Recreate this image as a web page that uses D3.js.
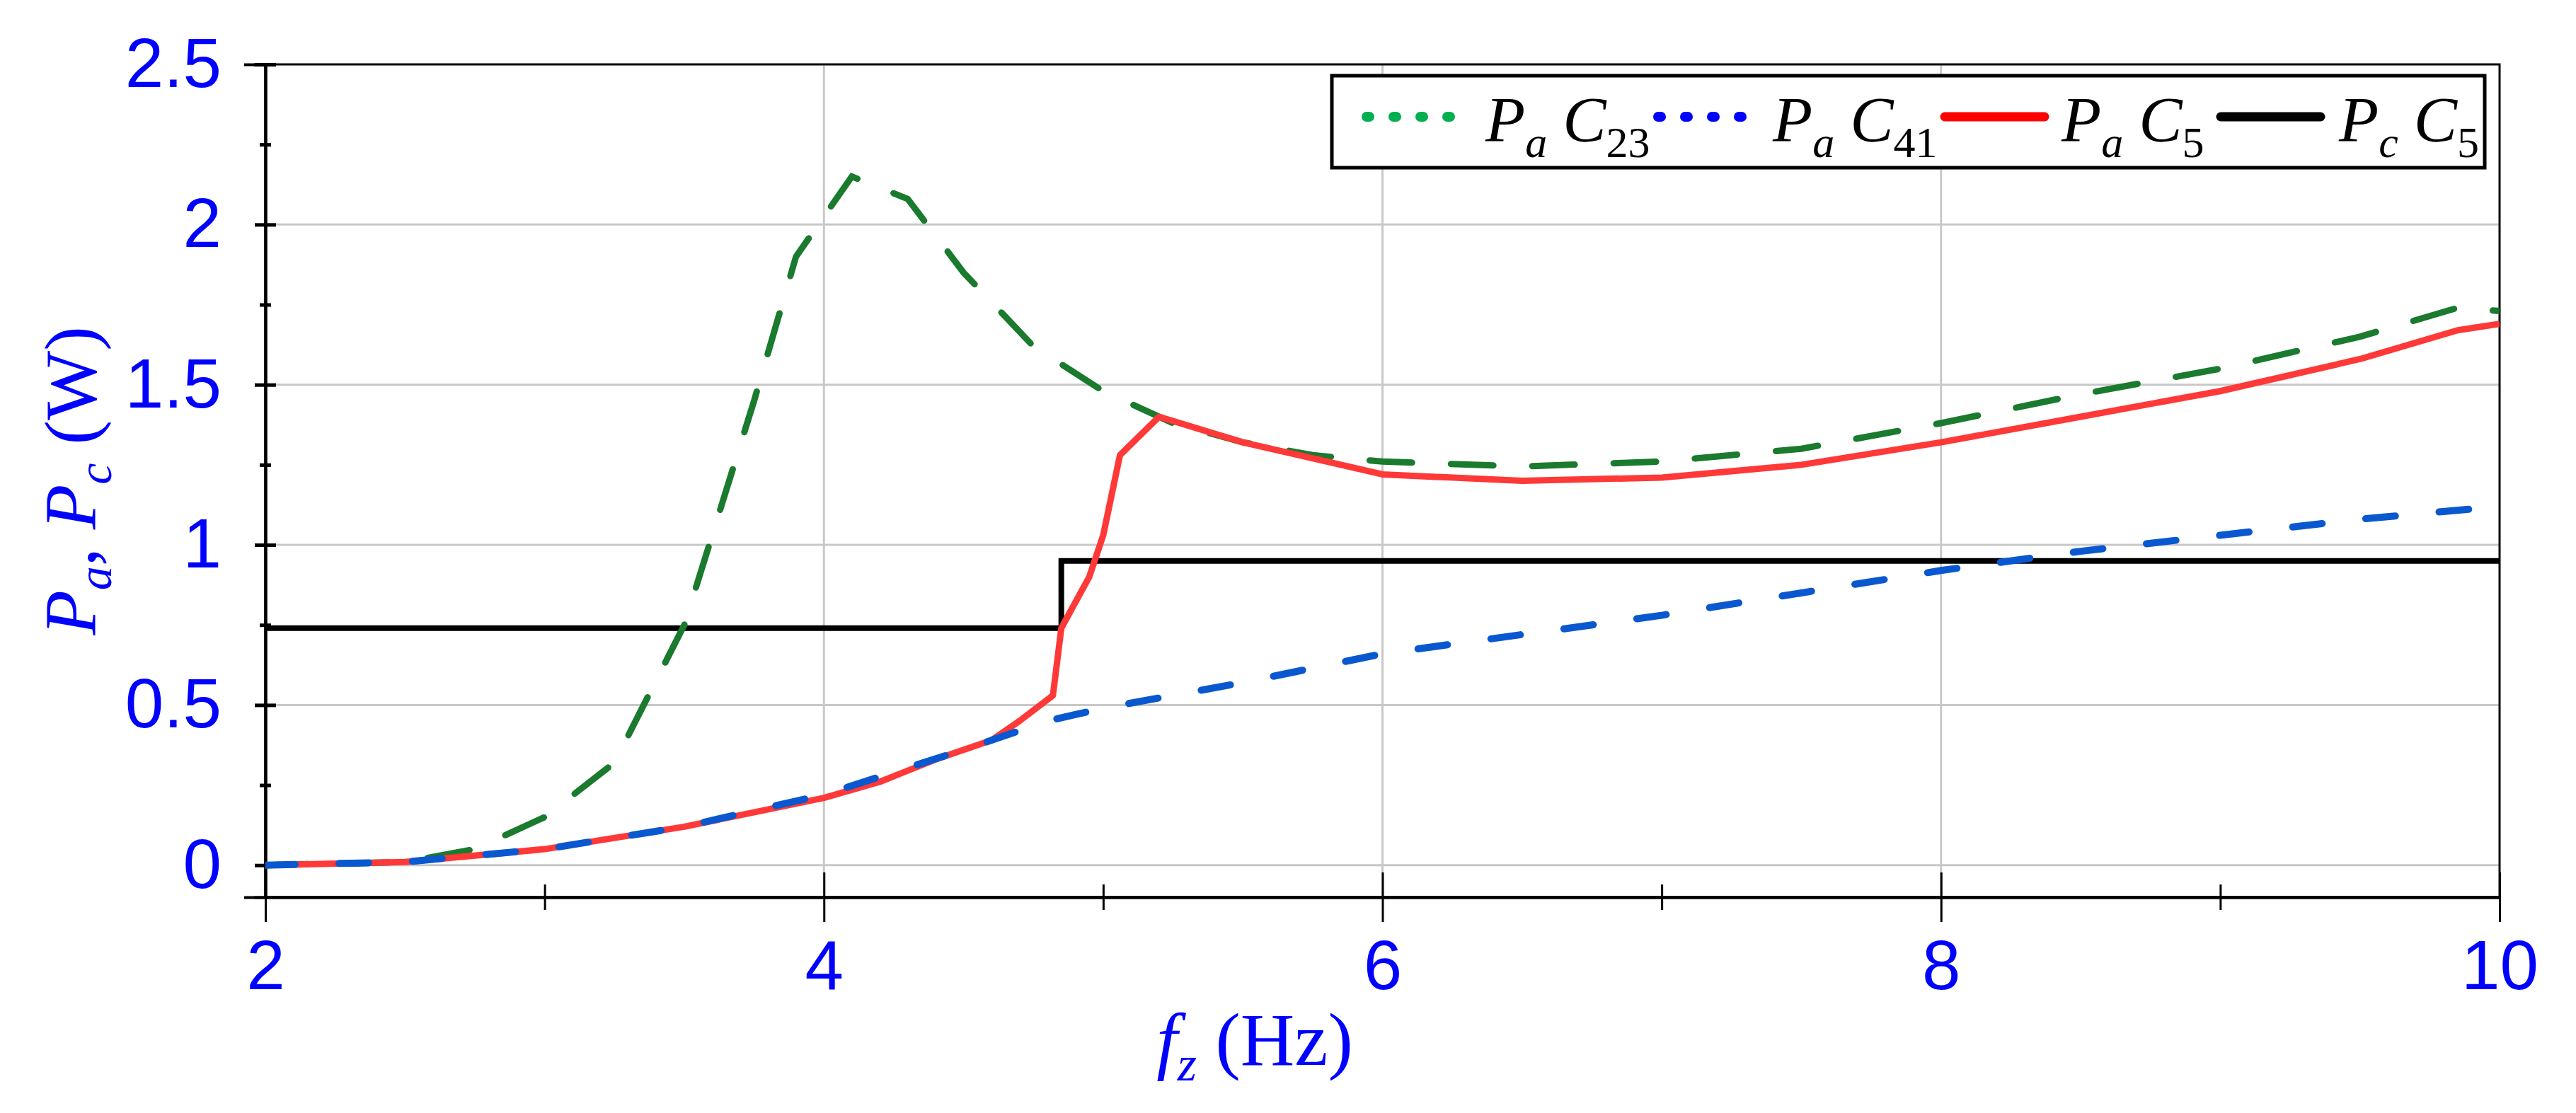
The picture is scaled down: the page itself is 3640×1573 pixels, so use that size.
<!DOCTYPE html>
<html><head><meta charset="utf-8">
<script src="https://cdn.jsdelivr.net/npm/d3@7"></script>
<style>body{margin:0;background:#fff}</style>
</head><body><svg id="chart"></svg>
<script>
var W = 3640, H = 1573;
var M = {left: 375, right: 108, top: 91, bottom: 305};

var xTicks = [2, 4, 6, 8, 10];
var xMinor = [3, 5, 7, 9];
var yTicks = [0, 0.5, 1, 1.5, 2, 2.5];
var yTickLabels = ["0", "0.5", "1", "1.5", "2", "2.5"];
var yMinor = [0.25, 0.75, 1.25, 1.75, 2.25];

// P_a C23 (green dashed)
var fC23 = [2, 2.5, 2.75, 3, 3.25, 3.5, 3.75, 3.9, 4.1, 4.3, 4.5, 4.75, 5, 5.25, 5.5, 5.75, 6, 6.5, 7, 7.5, 8, 8.5, 9, 9.5, 9.85, 10];
var pC23 = [0, 0.01, 0.05, 0.15, 0.32, 0.75, 1.45, 1.9, 2.15, 2.08, 1.85, 1.62, 1.48, 1.38, 1.32, 1.28, 1.26, 1.245, 1.26, 1.3, 1.38, 1.47, 1.55, 1.65, 1.74, 1.73];
// P_a C41 (blue dashed)
var fC41 = [2, 2.5, 3, 3.5, 4, 4.5, 4.8, 5, 5.5, 6, 6.5, 7, 7.5, 8, 8.5, 9, 9.5, 10];
var pC41 = [0, 0.01, 0.05, 0.12, 0.22, 0.36, 0.45, 0.49, 0.57, 0.66, 0.72, 0.78, 0.85, 0.92, 0.98, 1.03, 1.08, 1.12];
// P_a C5 (red)
var fC5 = [2, 2.5, 3, 3.5, 4, 4.2, 4.4, 4.6, 4.7, 4.82, 4.85, 4.95, 5, 5.06, 5.2, 5.5, 6, 6.5, 7, 7.5, 8, 8.5, 9, 9.5, 9.85, 10];
var pC5 = [0, 0.01, 0.05, 0.12, 0.21, 0.26, 0.33, 0.39, 0.45, 0.53, 0.74, 0.9, 1.03, 1.28, 1.4, 1.32, 1.22, 1.2, 1.21, 1.25, 1.32, 1.4, 1.48, 1.58, 1.67, 1.69];
// P_c C5 (black step)
var fPc = [2, 4.85, 10];
var pPc = [0.74, 0.95, 0.95];

var svg = d3.select('#chart').attr('width', W).attr('height', H);

var x = d3.scaleLinear().domain([2, 10]).range([M.left, W - M.right]);
var y = d3.scaleLinear().domain([-0.1, 2.5]).range([H - M.bottom, M.top]);

// grid
svg.append('g').selectAll('line').data(xTicks.slice(1, -1)).enter().append('line')
  .attr('x1', d => x(d)).attr('x2', d => x(d)).attr('y1', y(2.5)).attr('y2', y(-0.1))
  .attr('stroke', '#c8c8c8').attr('stroke-width', 3);
svg.append('g').selectAll('line').data(yTicks.slice(0, -1)).enter().append('line')
  .attr('x1', x(2)).attr('x2', x(10)).attr('y1', d => y(d)).attr('y2', d => y(d))
  .attr('stroke', '#c8c8c8').attr('stroke-width', 3);

// frame
svg.append('rect').attr('x', x(2)).attr('y', y(2.5)).attr('width', x(10) - x(2)).attr('height', y(-0.1) - y(2.5))
  .attr('fill', 'none').attr('stroke', '#000').attr('stroke-width', 3);

// axes
var yAx = svg.append('g').attr('transform', 'translate(' + x(2) + ',0)')
  .call(d3.axisLeft(y).tickValues(yTicks).tickFormat((d, i) => yTickLabels[i]).tickSize(30).tickPadding(32));
yAx.selectAll('.tick line').attr('stroke-width', 5).attr('x2', -30).attr('transform', 'translate(15,0)');
svg.append('g').attr('transform', 'translate(' + x(2) + ',0)')
  .call(d3.axisLeft(y).tickValues(yMinor).tickFormat('').tickSize(16))
  .selectAll('.tick line').attr('stroke-width', 5).attr('transform', 'translate(8,0)');

var xAx = svg.append('g').attr('transform', 'translate(0,' + y(-0.1) + ')')
  .call(d3.axisBottom(x).tickValues(xTicks).tickSize(0).tickPadding(60));
xAx.selectAll('.tick line').attr('y1', -35).attr('y2', 35).attr('stroke-width', 3);
svg.append('g').attr('transform', 'translate(0,' + y(-0.1) + ')')
  .call(d3.axisBottom(x).tickValues(xMinor).tickFormat('').tickSize(0))
  .selectAll('.tick line').attr('y1', -18).attr('y2', 18).attr('stroke-width', 3);

svg.selectAll('.domain').attr('stroke', '#000').attr('stroke-width', 4);
svg.selectAll('.tick text').attr('fill', '#0000ff').style('font-family', '"Liberation Sans Narrow", "Liberation Sans", Arial')
  .style('font-size', '98px');
xAx.selectAll('.tick text').attr('dy', '0.71em');

// lines
function series(fs, ps) { return fs.map((f, i) => [f, ps[i]]); }
var line = d3.line().x(d => x(d[0])).y(d => y(d[1]));
svg.append('clipPath').attr('id', 'clip').append('rect')
  .attr('x', x(2)).attr('y', y(2.5)).attr('width', x(10) - x(2)).attr('height', y(-0.1) - y(2.5));
var g = svg.append('g').attr('clip-path', 'url(#clip)');

g.append('path').datum(series(fPc, pPc)).attr('d', line.curve(d3.curveStepAfter))
  .attr('fill', 'none').attr('stroke', '#000').attr('stroke-width', 8);
line.curve(d3.curveLinear);
g.append('path').datum(series(fC23, pC23)).attr('d', line)
  .attr('fill', 'none').attr('stroke', '#1a7a2e').attr('stroke-width', 9).attr('stroke-linecap', 'round')
  .attr('stroke-dasharray', '60,55');
g.append('path').datum(series(fC5, pC5)).attr('d', line)
  .attr('fill', 'none').attr('stroke', '#ff3838').attr('stroke-width', 9).attr('stroke-linejoin', 'round');
g.append('path').datum(series(fC41, pC41)).attr('d', line)
  .attr('fill', 'none').attr('stroke', '#0a58d0').attr('stroke-width', 10).attr('stroke-linecap', 'round')
  .attr('stroke-dasharray', '42,62');

// legend
var lg = svg.append('g');
lg.append('rect').attr('x', 1882).attr('y', 107).attr('width', 1629).attr('height', 130)
  .attr('fill', '#fff').attr('stroke', '#000').attr('stroke-width', 5);
var legend = [
  {x0: 1923, x1: 2058, color: '#00b050', dots: true, P: 'a', C: '23', tx: 2099},
  {x0: 2335, x1: 2472, color: '#0000ff', dots: true, P: 'a', C: '41', tx: 2505},
  {x0: 2740, x1: 2897, color: '#ff0000', dots: false, P: 'a', C: '5', tx: 2913},
  {x0: 3130, x1: 3287, color: '#000', dots: false, P: 'c', C: '5', tx: 3305}
];
legend.forEach(function(d) {
  lg.append('line').attr('x1', d.x0 + 8).attr('x2', d.x1 - 8).attr('y1', 165).attr('y2', 165)
    .attr('stroke', d.color).attr('stroke-width', d.dots ? 14 : 13).attr('stroke-linecap', 'round')
    .attr('stroke-dasharray', d.dots ? '4,34' : null);
  var t = lg.append('text').attr('x', d.tx).attr('y', 200)
    .style('font-family', '"Liberation Serif", "Times New Roman"').style('font-style', 'italic').style('font-size', '92px');
  t.append('tspan').text('P');
  t.append('tspan').attr('dy', 22).style('font-size', '62px').text(d.P);
  t.append('tspan').attr('dy', -22).attr('dx', 22).text('C');
  t.append('tspan').attr('dy', 22).style('font-style', 'normal').style('font-size', '62px').text(d.C);
});

// axis titles
var xt = svg.append('text').attr('x', 1773).attr('y', 1505).attr('text-anchor', 'middle').attr('fill', '#0000ff')
  .style('font-family', '"Liberation Serif", "Times New Roman"').style('font-size', '106px');
xt.append('tspan').style('font-style', 'italic').text('f');
xt.append('tspan').attr('dy', 22).style('font-style', 'italic').style('font-size', '70px').text('z');
xt.append('tspan').attr('dy', -22).text(' (Hz)');

var yt = svg.append('text').attr('transform', 'translate(135,' + y(1.2) + ') rotate(-90)').attr('text-anchor', 'middle')
  .attr('fill', '#0000ff').style('font-family', '"Liberation Serif", "Times New Roman"').style('font-size', '104px');
yt.append('tspan').style('font-style', 'italic').text('P');
yt.append('tspan').attr('dy', 22).style('font-style', 'italic').style('font-size', '68px').text('a');
yt.append('tspan').attr('dy', -22).text(', ');
yt.append('tspan').style('font-style', 'italic').text('P');
yt.append('tspan').attr('dy', 22).style('font-style', 'italic').style('font-size', '68px').text('c');
yt.append('tspan').attr('dy', -22).text(' (W)');
</script>
</body></html>
